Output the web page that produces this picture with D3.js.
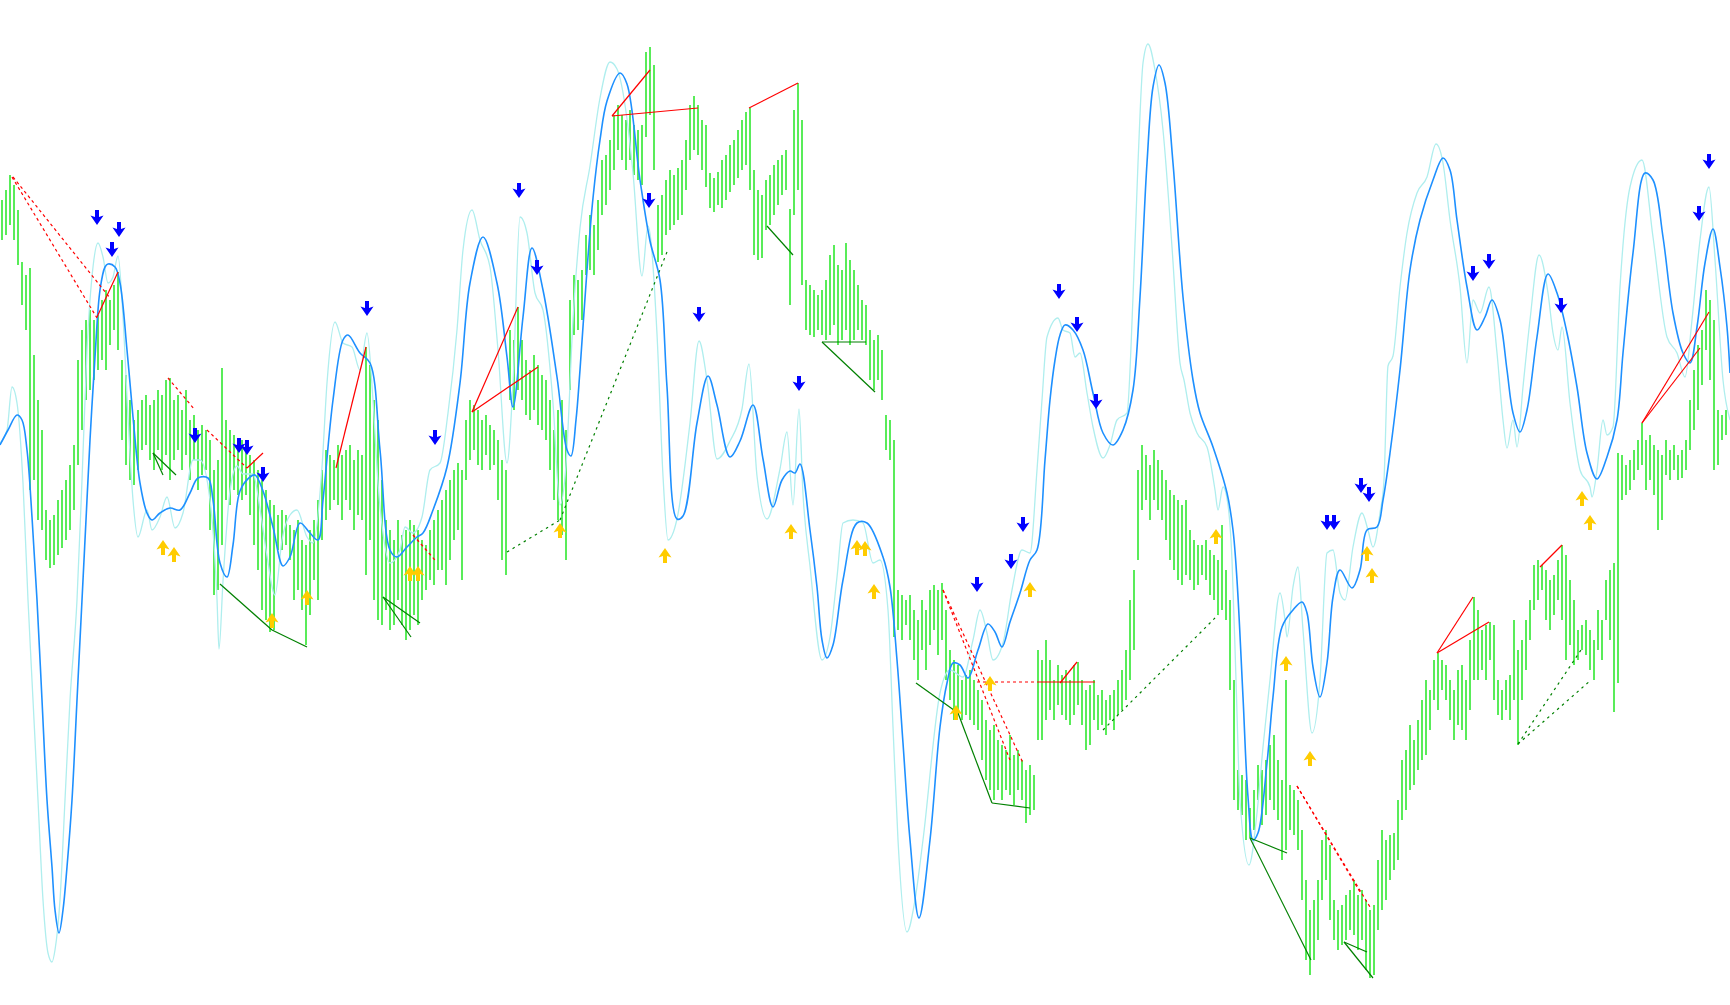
<!DOCTYPE html>
<html><head><meta charset="utf-8">
<script src="https://cdn.jsdelivr.net/npm/d3@7"></script>
<style>html,body{margin:0;padding:0;background:#fff;overflow:hidden}svg{display:block}</style>
</head><body><svg id="c"></svg>
<script>
// ---- price bars (one per bar index): high and low ----
const barHigh = [
800,810,825,815,790,738,725,732,645,600,
570,490,480,485,500,510,520,535,555,640,
670,680,690,680,685,700,710,700,715,728,
640,625,600,580,590,600,605,595,600,610,
605,620,622,600,605,590,610,580,585,570,
575,570,560,530,540,632,580,570,565,560,
560,550,545,540,530,520,510,500,495,485,
490,485,475,470,480,460,455,470,480,500,
530,550,545,540,555,545,550,555,540,550,
545,653,635,600,580,520,480,470,460,480,
465,470,480,475,470,460,455,470,480,490,
500,510,520,530,537,530,580,600,595,590,
580,585,575,570,560,540,530,670,660,693,
660,640,630,645,635,625,620,600,570,590,
600,570,700,725,720,730,765,785,775,800,
840,845,860,885,895,885,880,890,875,870,
875,948,953,935,795,805,820,830,825,832,
840,860,895,904,895,880,875,827,822,828,
840,845,855,860,870,880,888,892,830,810,
805,820,825,835,840,845,850,791,890,917,
880,720,715,710,705,710,720,745,755,735,
730,757,740,730,715,700,695,670,660,665,
650,585,580,560,410,405,400,405,390,380,
400,390,410,415,410,417,390,350,340,335,
320,325,330,320,310,300,280,270,275,260,
255,250,265,245,250,240,230,235,225,350,
340,360,340,320,335,325,330,320,335,338,
320,310,315,320,305,310,300,305,310,320,
330,350,400,430,530,555,545,535,550,540,
530,520,510,505,500,495,500,470,460,455,
455,460,450,445,440,475,430,400,320,230,
225,220,192,210,235,230,240,255,265,240,
220,320,215,210,200,170,120,90,100,120,
160,170,155,100,90,95,105,110,120,105,
110,100,90,95,140,170,160,165,167,200,
240,250,275,260,280,300,320,310,340,347,
340,335,320,310,330,335,320,360,403,390,
370,375,378,375,320,310,320,325,380,350,
360,380,400,435,440,435,430,420,425,440,
455,445,420,400,370,375,380,370,360,390,
380,420,430,437,547,545,535,540,550,560,
577,560,565,555,550,545,560,550,555,545,
550,560,600,630,655,670,710,700,680,590,
585,590];
const barLow = [
760,765,775,760,735,695,670,510,520,480,
470,440,432,435,445,452,460,470,490,535,
570,600,610,620,630,640,630,655,670,650,
560,535,520,515,530,550,555,540,530,550,
530,545,520,540,550,530,545,520,540,510,
525,530,470,405,410,455,500,495,510,505,
500,505,485,455,430,390,380,368,370,450,
450,455,440,400,410,390,355,385,420,400,
460,480,490,500,495,480,500,490,470,485,
480,425,460,400,380,375,390,370,375,400,
375,360,370,385,375,400,410,420,415,430,
430,415,440,460,470,420,520,540,550,535,
530,545,530,535,500,440,425,600,590,610,
600,585,580,590,575,570,560,530,500,480,
465,440,610,665,670,680,725,730,725,750,
785,795,810,830,850,840,830,840,825,820,
815,863,885,830,738,745,765,770,775,780,
785,810,840,850,845,830,813,792,788,795,
792,800,808,815,822,830,835,810,745,740,
742,770,775,785,795,805,810,695,785,810,
715,670,665,663,670,665,660,665,675,655,
660,670,655,660,670,660,655,620,610,620,
600,550,540,363,370,360,375,360,340,320,
350,330,355,370,345,360,320,300,280,290,
280,285,280,275,270,240,220,210,200,210,
200,210,205,195,210,200,177,185,190,260,
260,280,290,280,295,285,280,275,285,295,
275,250,255,280,270,275,265,280,270,285,
290,300,320,350,440,490,500,480,500,490,
480,460,440,430,420,415,425,420,410,415,
425,420,405,400,385,390,380,310,200,190,
185,160,162,170,200,175,185,200,190,180,
140,150,170,165,150,100,40,25,40,60,
100,120,80,60,50,55,60,70,65,50,
60,30,22,25,70,90,100,120,130,140,
180,190,210,215,230,240,245,270,300,290,
310,300,280,260,275,270,260,290,320,320,
330,320,340,300,285,280,290,280,300,255,
300,330,360,390,400,410,380,370,385,400,
380,340,355,335,340,350,345,330,320,350,
340,380,360,288,317,500,505,510,520,530,
535,510,520,505,470,480,525,520,530,520,
522,530,550,570,590,615,650,620,530,535,
560,565];

// ---- oscillator lines: [time, value] ----
const mainLine = [[0,555],[2,570],[4.25,585],[5.5,580],[6.75,550],[8,483],[9.25,400],[10.5,300],[11.75,200],[13,133],[13.75,90],[14.75,67],[15.75,90],[16.75,133],[18,200],[19.25,300],[20.5,400],[21.5,480],[22.5,560],[23.75,643],[25,710],[26.25,733],[27,736],[28.75,733],[30,717],[31.75,650],[33.25,583],[35,517],[36.75,487],[38,480],[40,487],[42.5,492],[45,490],[47.5,507],[49.5,522],[52,522],[53.25,500],[55,437],[56.75,423],[58.25,455],[60,509],[62.5,523],[63.75,525],[65.75,509],[68.25,473],[70.75,434],[72.5,443],[75,477],[77.5,467],[79.5,460],[80.75,500],[83.25,600],[85.75,660],[87,665],[90,647],[92.5,637],[95,550],[97.5,450],[99.25,443],[101.75,453],[104.25,463],[105.75,467],[108.25,490],[111.75,533],[115,617],[117.5,717],[120.75,763],[124.25,717],[126.75,643],[128.25,593],[130.75,683],[133,752],[135.75,710],[139.25,623],[141.75,550],[142.75,544],[144,580],[145,630],[146.75,730],[148.25,802],[150,860],[151.75,899],[155,927],[156.75,916],[160,820],[162.5,759],[165,720],[166.75,613],[169.25,481],[170.75,484],[174.25,577],[177,624],[179.25,595],[182.5,543],[185,559],[188.25,595],[190.75,541],[193.25,493],[195.5,520],[197.5,529],[198.75,527],[200,536],[202.5,470],[204.25,413],[205.5,360],[206.75,342],[208.25,355],[210.75,420],[214.25,477],[216.75,477],[220.75,443],[222.5,413],[224.25,340],[225.75,257],[227.5,160],[229.75,82],[232.5,160],[235,273],[236.75,317],[238.25,337],[240,335],[242,322],[244.5,350],[247,376],[248.75,368],[250.5,353],[252.5,378],[255,407],[257.5,440],[259.25,450],[261.25,540],[262.5,600],[263.75,640],[265,665],[266.25,675],[268.25,670],[270.75,650],[273.25,607],[275.75,567],[278.25,555],[280.75,570],[283.25,610],[285,703],[286.75,837],[288.25,913],[289.75,935],[291.25,917],[293.25,837],[295.75,703],[298.25,620],[300,587],[303.25,553],[306.75,507],[308.25,470],[309.25,420],[310.75,303],[312,203],[313.25,160],[314.5,167],[316.75,237],[318.25,303],[320.5,373],[323.25,390],[325.5,398],[326.75,387],[328.25,333],[330,303],[331.75,337],[333.25,403],[335,430],[338,412],[340,430],[341.75,470],[344.25,473],[345.75,500],[347.5,547],[350,630],[352.5,730],[355,780],[358.25,820],[360.75,842],[362.5,830],[364.25,780],[366.75,713],[369.25,670],[371.25,683],[373,700],[375,680],[376.75,630],[378.25,587],[380,568],[381.75,590],[384.25,663],[387,726],[389.25,707],[391.75,667],[394.25,613],[396.75,547],[399.25,521],[401.75,543],[404.25,580],[405.75,647],[408.25,747],[411.25,827],[413.25,820],[415.75,763],[418.25,687],[420.75,647],[422.5,637],[424.25,673],[426.25,737],[428.25,771],[430,733],[431.75,673],[432.5,627]];
const signalLine = [[0,557],[1.75,570],[3,613],[4.25,597],[5.75,517],[7,400],[8.25,300],[9.5,200],[10.75,100],[12,47],[13,38],[13.75,50],[15,100],[16.25,200],[17.5,300],[19.25,400],[20.5,520],[21.75,650],[23.25,733],[24.5,757],[25.75,743],[27,717],[28.25,723],[29.5,744],[30.75,683],[32,583],[33.25,500],[34.5,463],[36.75,490],[38,470],[40,483],[41.75,503],[43.75,472],[45.75,487],[48.25,540],[50,540],[52.5,500],[54.25,401],[54.75,351],[55.75,419],[57.5,509],[59.25,534],[60.75,526],[63.25,526],[65,491],[66.75,444],[68.75,405],[70.5,460],[72.5,485],[74.25,490],[76.75,463],[78.25,457],[80.5,533],[81.75,617],[83.75,678],[85.75,657],[88,653],[90,630],[91.75,667],[93.25,600],[94.5,517],[95.75,467],[97.5,437],[100,450],[101.25,473],[103.25,467],[105.5,483],[107.5,530],[110,537],[112,587],[114.25,670],[115.75,750],[118,790],[120,760],[122.5,733],[124.5,650],[126.75,537],[128.25,617],[130,783],[131.75,767],[133.75,707],[135.75,690],[138.25,597],[140,495],[141.5,535],[143.25,680],[145,772],[147.5,834],[150,902],[152.5,938],[154.25,931],[156.75,881],[158.25,827],[160.5,724],[162,774],[164.25,666],[165.75,524],[167,460],[169.25,481],[172.5,577],[174.75,659],[176.75,620],[179.25,541],[182.5,559],[185.5,591],[187.25,636],[189.25,524],[191.75,481],[195,531],[196.75,568],[198.25,495],[199.75,591],[200.75,506],[202.5,434],[205.5,340],[207.5,363],[209.25,423],[210.75,477],[213.25,480],[215.75,477],[218.25,437],[220,440],[222,390],[223.25,273],[224.5,160],[226.75,68],[228.75,100],[230.75,160],[235,307],[237.5,330],[240.75,323],[243.25,360],[245,390],[246.75,367],[248.25,340],[250.75,357],[253,410],[255.5,450],[257.5,447],[259.25,530],[260.5,600],[261.75,663],[264.5,682],[265.75,670],[267.5,667],[268.75,643],[270,647],[271.75,607],[273.25,573],[275.75,542],[277.5,555],[279.25,580],[281.75,587],[283.25,703],[284.5,837],[285.75,937],[287,956],[288.75,930],[290.75,870],[293,753],[295,637],[296,620],[297.5,587],[299.25,567],[301.75,553],[303.75,510],[304.5,490],[305.75,513],[307,495],[308,440],[309,320],[310,200],[312.25,135],[314.25,187],[315.75,253],[317.5,320],[320,407],[321.25,380],[321.75,363],[323.25,413],[324.5,433],[325.75,370],[328,267],[330,320],[331.75,447],[333.25,450],[335,407],[336.25,400],[338.25,453],[340.5,487],[342,470],[343.25,453],[345,487],[346,520],[347,634],[348.25,644],[350,713],[351.75,767],[354.25,807],[356.75,823],[359,856],[360.75,837],[362.5,780],[365,713],[366.75,637],[368.25,700],[370,687],[372.25,713],[374.25,647],[375.75,580],[376.75,552],[378.25,580],[379.25,553],[380.75,613],[382.5,680],[384.75,745],[387,707],[388.25,667],[389.5,650],[390.5,673],[392.5,597],[395,530],[397.5,513],[398,503],[399.25,530],[400.75,580],[401.75,565],[403.25,573],[405,713],[407.5,813],[410.5,840],[413.25,763],[416.75,663],[419.25,647],[421.25,623],[423,680],[425,760],[427.25,813],[428.75,740],[430.75,620],[432.5,580]];

// ---- signal arrows: [bar index, value] ----
const arrowsDown = [[23.75,782],[27.5,750],[29.25,770],[48.25,564],[59.25,554],[61.25,552],[65.25,525],[91.25,691],[108.25,562],[129.25,809],[133.75,732],[161.75,799],[174.25,685],[199.25,616],[243.75,415],[252.25,438],[255.25,475],[264.25,708],[268.75,675],[273.5,598],[331.25,477],[333,477],[339.75,514],[341.75,505],[367.75,726],[371.75,738],[389.75,694],[424.25,786],[426.75,838]];
const arrowsUp = [[40.25,453],[43,446],[67.5,380],[76.25,403],[102,427],[104,427],[139.5,470],[165.75,445],[197.25,469],[213.75,453],[215.75,452],[218,409],[238.5,288],[247,317],[257,411],[303.5,464],[321,337],[327,242],[341.25,447],[342.5,425],[395,502],[397,478]];

// ---- trend lines: [bar index 1, value 1, bar index 2, value 2] ----
const redSolid = [[23.75,683,29,728],[61.25,532,65.25,547],[83.5,532,91,653],[117.5,588,129,693],[117.5,588,134,633],[152.5,884,162,930],[152.5,884,174,892],[186.75,892,199,917],[258.75,318,273.25,318],[264.5,317,268.75,338],[358.75,347,367.75,403],[358.75,347,371.75,378],[384.5,433,390,455],[410,577,426.75,688],[410,577,424.5,652]];
const redDashed = [[2.5,823,23.75,682],[2.75,823,27,702],[41.5,622,48.25,590],[51.25,570,61.25,532],[102.75,465,108.25,440],[235.25,410,252,240],[235.25,410,255.25,237],[243.75,318,258.75,318],[323.75,214,342,93],[323.75,214,339.5,108]];
const greenSolid = [[37.75,547,40.25,525],[37.75,547,43.5,525],[54.5,416,67.5,370],[67.5,370,76.25,353],[95.25,403,102.25,363],[95.25,403,104.5,377],[191.25,774,197.75,745],[205,658,216,658],[205,658,218.25,608],[228.5,317,239,287],[239,287,247.5,197],[247.5,197,257,192],[312,162,321.25,147],[312,162,327.25,40],[335.5,58,341.25,48],[335.5,58,342.75,22]];
const greenDashed = [[126.25,448,139.5,480],[139.5,480,166.25,748],[275.25,270,304,385],[379,256,395.25,353],[379,256,397.25,320]];

// ---- drawing ----
const W = 1730, H = 1005;
const svg = d3.select('#c').attr('width', W).attr('height', H);
svg.append('rect').attr('width', W).attr('height', H).attr('fill', '#ffffff');

const x = d3.scaleLinear().domain([0, 432.5]).range([0, 1730]);
const y = d3.scaleLinear().domain([0, 1000]).range([1000, 0]);

// bars
svg.append('g').selectAll('line').data(barHigh).join('line')
  .attr('x1', (d, i) => x(i + 0.5)).attr('x2', (d, i) => x(i + 0.5))
  .attr('y1', d => y(d)).attr('y2', (d, i) => y(barLow[i]))
  .attr('stroke', '#22e622').attr('stroke-width', 1.5);

// oscillator lines
const lineGen = d3.line().x(d => x(d[0])).y(d => y(d[1]));
svg.append('path').datum(signalLine)
  .attr('d', lineGen.curve(d3.curveMonotoneX))
  .attr('fill', 'none').attr('stroke', '#afeeee').attr('stroke-width', 1.3);
svg.append('path').datum(mainLine)
  .attr('d', lineGen.curve(d3.curveCatmullRom.alpha(0.5)))
  .attr('fill', 'none').attr('stroke', '#1e90ff').attr('stroke-width', 1.6);

// trend lines
function drawSegs(data, color, dash, width) {
  svg.append('g').selectAll('line').data(data).join('line')
    .attr('x1', d => x(d[0] + 0.5)).attr('y1', d => y(d[1]))
    .attr('x2', d => x(d[2] + 0.5)).attr('y2', d => y(d[3]))
    .attr('stroke', color).attr('stroke-width', width)
    .attr('stroke-dasharray', dash);
}
drawSegs(greenDashed, '#008000', '2.5,4', 1.2);
drawSegs(greenSolid, '#008000', null, 1.2);
drawSegs(redDashed, '#ff0000', '3,3', 1.2);
drawSegs(redSolid, '#ff0000', null, 1.2);

// arrows
const downPath = 'M-2,-8H2V-1L6.5,-2.5L0,7L-6.5,-2.5L-2,-1Z';
const upPath = 'M-2,8H2V1L6.5,2.5L0,-7L-6.5,2.5L-2,1Z';
svg.append('g').selectAll('path').data(arrowsDown).join('path')
  .attr('d', downPath)
  .attr('transform', d => `translate(${x(d[0] + 0.5)},${y(d[1])})`)
  .attr('fill', '#0000ff');
svg.append('g').selectAll('path').data(arrowsUp).join('path')
  .attr('d', upPath)
  .attr('transform', d => `translate(${x(d[0] + 0.5)},${y(d[1])})`)
  .attr('fill', '#ffcc00');
</script>
</body></html>
